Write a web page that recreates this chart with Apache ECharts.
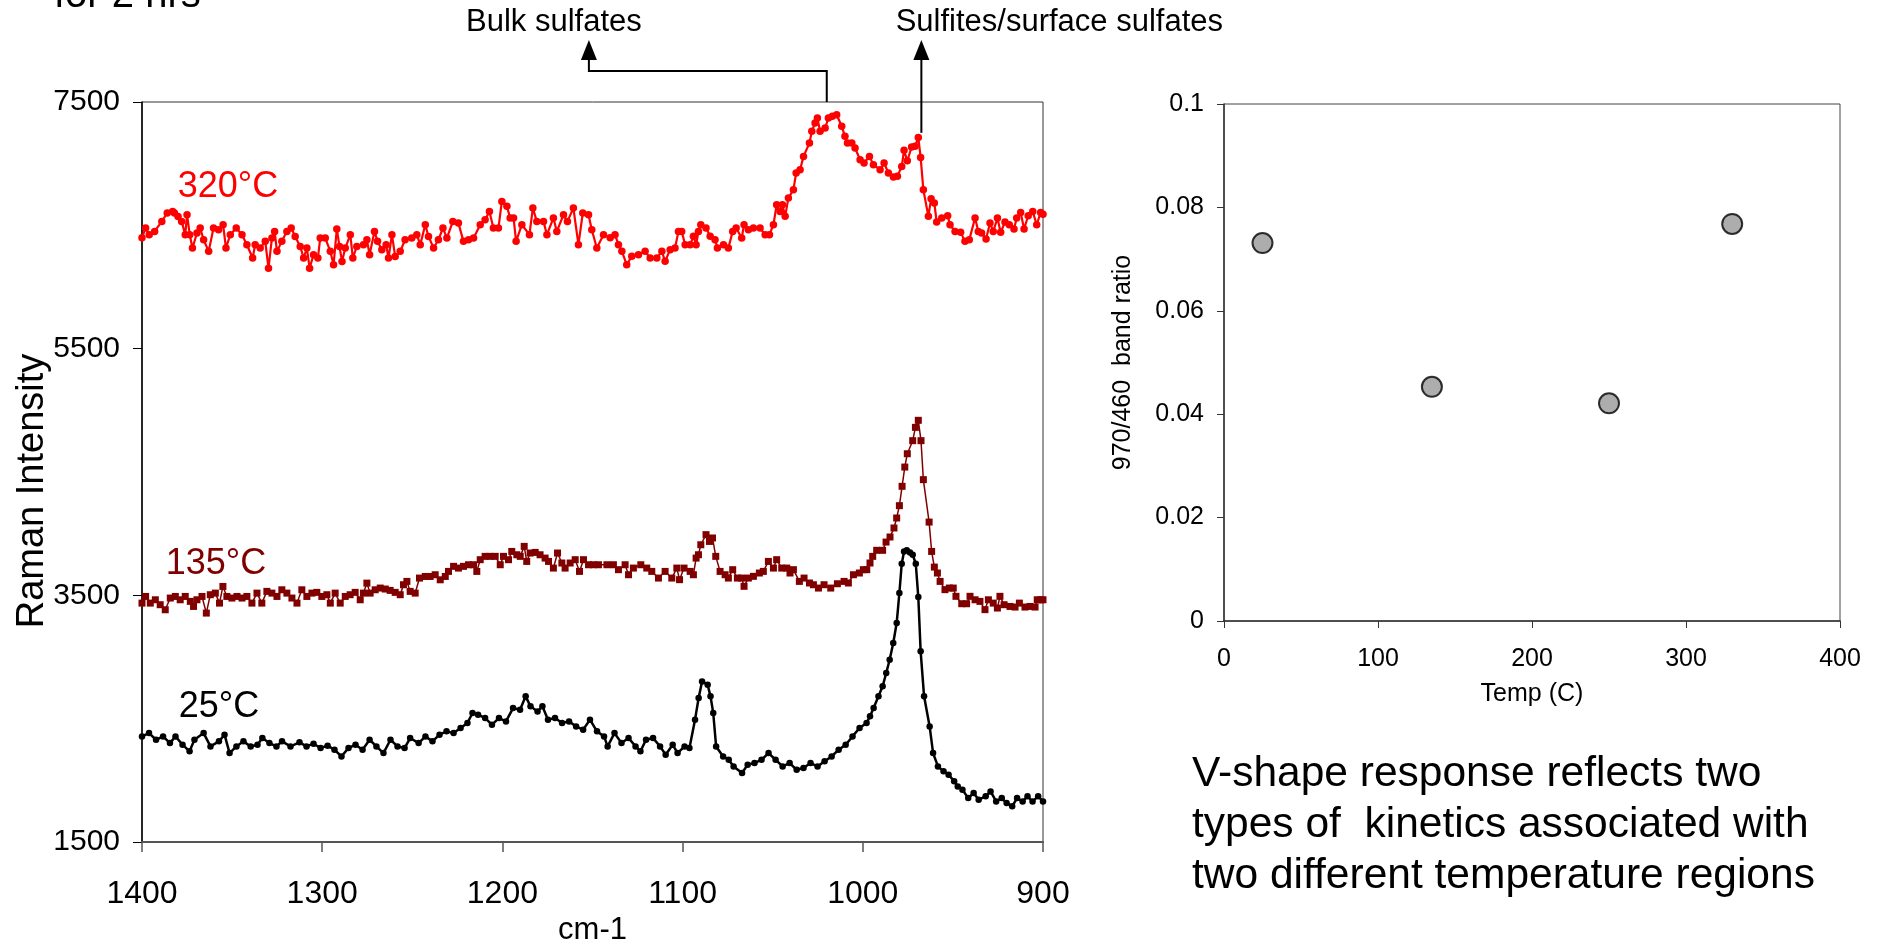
<!DOCTYPE html>
<html>
<head>
<meta charset="utf-8">
<script src="https://cdn.jsdelivr.net/npm/echarts@6/dist/echarts.min.js"></script>
<style>
html,body{margin:0;padding:0;background:#fff;}
#main{width:1879px;height:944px;}
</style>
</head>
<body>
<div id="main"></div>
<script>
// ---------- Raman spectra (wavenumber cm-1, intensity) ----------
const wave320 = [1400,1398,1396,1393,1389,1386,1383,1382,1380,1378,1376,1375,1373.5,1372,1369.5,1367.7,1365.8,1363,1360.3,1357.5,1355,1353.4,1351,1347.7,1344.5,1341.8,1338.6,1337.2,1334.4,1331.6,1329.8,1327.9,1326.4,1325.1,1322.4,1319.6,1317.2,1315,1312.2,1310.3,1308.5,1307,1304.8,1302.4,1301.1,1298.3,1295.5,1293.7,1291.9,1290.4,1289,1287.2,1284.4,1283,1280.8,1277.1,1275.2,1273.7,1271,1269.3,1266.9,1264.5,1263.2,1261.3,1259.5,1256.7,1254,1250.3,1247.5,1245.6,1242.8,1241,1238.2,1235.5,1233,1230.8,1227.5,1224.4,1221.6,1218.8,1216,1212.3,1209.6,1207.2,1205,1202.2,1200.3,1197.5,1195.7,1193.8,1192.4,1189.2,1185,1183.1,1180.9,1177.2,1175.3,1171.7,1169.8,1166.1,1163.9,1160.6,1157.8,1155.4,1152.2,1150.4,1147.6,1143.9,1140.2,1137.5,1135.6,1133.7,1131,1128.2,1124.5,1120.8,1118,1114.3,1111.5,1109.7,1106.9,1104.2,1102.3,1100.5,1098.6,1095.8,1094,1092.5,1091.2,1089.9,1087,1084.7,1082,1080.7,1077.3,1074.6,1072.2,1070.3,1067.2,1065.9,1063.5,1060.7,1057,1054.2,1051.8,1049.6,1047.8,1045.9,1044.6,1043.1,1041.3,1038.5,1037,1034.8,1032.9,1029.6,1028.3,1026.5,1025.2,1023.7,1020.9,1019.1,1016.9,1014.5,1011.7,1009.9,1008.5,1006.1,1004.3,1001.5,999.3,996.3,994.1,990.4,988.2,985.8,983,980.8,978.4,977.1,975.3,972.9,971,969.2,967.9,966.4,963.6,962.1,960.3,959,956.2,952.9,951.6,948.8,945.7,943.3,940.9,937.7,935.9,934.1,931.6,929.4,927.6,925.3,923.5,921.1,918.7,916.1,914.6,912.4,910.5,908.2,905.7,903.5,901.3,900];
const int320 = [6400,6478,6424,6451,6532,6600,6613,6600,6572,6532,6424,6586,6424,6316,6437,6478,6383,6289,6478,6464,6505,6316,6424,6478,6424,6343,6235,6343,6316,6370,6153,6397,6451,6289,6370,6451,6478,6410,6329,6235,6316,6153,6262,6235,6397,6397,6289,6180,6470,6329,6207,6316,6424,6235,6329,6343,6383,6262,6451,6370,6302,6343,6235,6424,6248,6289,6383,6397,6424,6343,6505,6410,6316,6383,6478,6397,6532,6518,6370,6383,6397,6505,6545,6613,6478,6478,6694,6654,6559,6559,6370,6505,6424,6640,6532,6532,6424,6559,6451,6586,6532,6640,6343,6600,6586,6464,6316,6424,6400,6424,6343,6289,6181,6249,6262,6289,6235,6235,6289,6208,6303,6316,6451,6451,6343,6343,6411,6343,6451,6505,6478,6411,6384,6316,6343,6316,6451,6478,6397,6505,6465,6478,6478,6424,6424,6505,6667,6613,6667,6573,6721,6789,6924,6951,7059,7168,7262,7330,7370,7262,7289,7370,7384,7397,7303,7222,7168,7168,7127,7032,7005,7059,6992,6951,7005,6924,6892,6897,6978,7108,7024,7135,7141,7213,7051,6789,6573,6716,6681,6527,6559,6578,6505,6451,6443,6370,6384,6559,6451,6438,6389,6519,6451,6559,6443,6527,6505,6470,6559,6605,6470,6578,6613,6505,6605,6590];

const wave135 = [1400,1398,1395.4,1392.6,1389.9,1387.1,1384.3,1381.5,1378.8,1376,1373.2,1371.4,1369.5,1366.7,1364.3,1362.1,1359.3,1357,1355.1,1352.9,1350.1,1347.3,1344.5,1341.8,1339,1336.2,1333.5,1330.7,1327.9,1325.1,1322.4,1319.6,1316.8,1314,1311.3,1308.5,1305.7,1303,1300.2,1297.4,1295.5,1292.8,1290,1287.2,1284.5,1281.7,1278.9,1277.1,1275.2,1273.4,1270.6,1267.8,1265,1262.3,1259.5,1256.7,1254.9,1253,1251.2,1248.4,1246,1242.8,1240.1,1237.3,1234.5,1231.7,1229.9,1227.1,1224.4,1221.6,1218.8,1216,1214.2,1212.3,1209.6,1206.8,1204,1201.2,1199.4,1196.6,1194.8,1192,1190.1,1187.9,1186.5,1184.6,1181.8,1179.1,1176.3,1174.4,1171.7,1169.4,1167,1165.2,1162.4,1159.6,1157.2,1155,1152.2,1149.5,1146.7,1142,1138.4,1135.6,1131.9,1130,1127.3,1123.2,1119.9,1117.1,1113.4,1109.7,1106,1103.2,1101.7,1099.2,1095.8,1094,1092.5,1091.2,1089.9,1087,1085.1,1083.4,1081.6,1079.2,1076.4,1074.6,1072.2,1069.6,1067.2,1065.9,1063.5,1060.7,1057.4,1055.2,1052.4,1049.6,1047.8,1045,1042.2,1040.4,1038.5,1035.2,1032.6,1029.6,1027.4,1024.6,1021.5,1017.8,1014.1,1010.4,1008,1005.2,1001.9,999.7,997.8,996,994.5,992.3,989,987.1,984.9,982.7,981.2,979.7,978.2,976.7,975.3,972.3,970.8,969.2,967.7,966.4,963.2,961.8,960.3,958.6,957.1,954.4,952,949.8,948.3,945.1,942.4,940.5,937.7,935,932.2,930.3,927.6,925.3,923.9,921.6,918.3,915.5,913.1,910,907.2,904.4,903.2,901.3,900];
const int135 = [3437,3491,3437,3464,3424,3383,3478,3491,3464,3491,3451,3410,3464,3491,3356,3505,3518,3437,3572,3491,3478,3491,3478,3491,3437,3518,3437,3532,3518,3491,3545,3518,3478,3437,3545,3491,3518,3524,3491,3505,3437,3518,3437,3491,3505,3524,3464,3518,3599,3518,3545,3559,3551,3540,3524,3505,3586,3613,3532,3518,3640,3653,3653,3667,3626,3653,3694,3735,3721,3735,3748,3748,3694,3789,3816,3816,3816,3748,3816,3789,3856,3829,3816,3897,3775,3843,3848,3829,3802,3775,3721,3843,3762,3721,3762,3789,3694,3789,3748,3748,3748,3748,3748,3708,3748,3667,3721,3748,3721,3694,3640,3694,3640,3721,3627,3721,3694,3667,3802,3829,3910,3992,3937,3965,3816,3694,3667,3640,3708,3640,3640,3573,3640,3654,3681,3694,3775,3721,3789,3721,3721,3681,3708,3613,3640,3600,3586,3559,3586,3559,3594,3613,3600,3667,3681,3708,3708,3762,3816,3865,3865,3932,3973,4046,4127,4227,4384,4540,4648,4754,4862,4919,4754,4438,4094,3856,3729,3681,3613,3546,3559,3559,3492,3432,3432,3492,3464,3451,3384,3464,3437,3397,3492,3424,3410,3405,3437,3405,3410,3405,3464,3464,3464];

const wave25 = [1400,1396.1,1392.2,1388.3,1384.5,1381.4,1377.5,1373.6,1370.9,1365.8,1362,1357.3,1354.2,1351.4,1347.6,1343.7,1339.7,1335.9,1333.2,1329.3,1325.4,1322.3,1317.6,1312.6,1308.7,1304.8,1300.9,1297,1293.2,1289.3,1285.4,1281.5,1277.6,1273.7,1269.9,1266,1262.1,1258.2,1254.3,1251.2,1246.5,1242.7,1238.8,1234.9,1231,1227.1,1223.2,1219.4,1216.6,1213.5,1209.6,1205.8,1201.9,1198,1194.1,1190.2,1187.1,1184.4,1180.5,1177.8,1174.7,1170.8,1166.9,1163,1159.1,1155.2,1151.4,1147.5,1143.6,1141.6,1137.8,1133.9,1130,1126.1,1123.4,1120.3,1116.4,1112.5,1109.4,1105.5,1102.8,1098.9,1096.2,1093.1,1091.1,1089.2,1086.1,1084.5,1083,1081.4,1077.5,1074.4,1071.7,1067,1063.9,1060.1,1056.2,1052.3,1048.4,1044.5,1040.6,1036.7,1032.9,1029,1025.1,1021.2,1017.3,1013.4,1009.5,1005.7,1001.8,997.9,996,994,991.3,989,987,985.1,983.1,981.2,979.7,978.4,977.1,975.6,973.8,972.3,970.6,969.2,967.9,966,962.9,961,958.3,955.2,952.4,949.3,947.3,944.7,941.5,938.5,935.7,931.8,929.1,926,922.9,920.2,917.1,914.4,911.3,908.6,905.8,902.7,900];
const int25 = [2356,2383,2329,2356,2302,2356,2289,2235,2329,2383,2275,2316,2370,2221,2275,2316,2275,2289,2343,2302,2275,2316,2275,2308,2275,2297,2262,2281,2248,2194,2262,2289,2248,2329,2275,2221,2329,2275,2262,2343,2302,2356,2316,2370,2397,2383,2424,2465,2546,2532,2505,2451,2505,2478,2586,2573,2681,2600,2559,2600,2492,2505,2465,2478,2437,2410,2492,2397,2356,2275,2383,2302,2343,2275,2235,2329,2343,2275,2208,2289,2221,2275,2262,2492,2667,2802,2775,2681,2546,2275,2194,2167,2113,2059,2127,2140,2167,2221,2167,2113,2140,2086,2100,2140,2113,2154,2194,2248,2289,2356,2424,2465,2519,2586,2681,2762,2870,2978,3113,3275,3519,3756,3856,3865,3848,3829,3756,3486,3046,2681,2437,2221,2113,2073,2046,1992,1951,1924,1856,1897,1843,1870,1910,1829,1856,1816,1789,1856,1829,1870,1829,1870,1829];

const ramanYTicks = [1500, 3500, 5500, 7500];

// ---------- band ratio vs temperature ----------
const tempC = [25, 135, 250, 330];
const bandRatio = [0.0731, 0.0453, 0.0421, 0.0768];

// ---------- annotation anchors (cm-1) ----------
const bulkBand = 1020, bulkArrowAt = 1152, sulfBand = 967.5, sulfLineTop = 7250;

const zip = (xs, ys) => xs.map((x, i) => [x, ys[i]]);
const FONT = "'Liberation Sans', Arial, Helvetica, sans-serif";

const chart = echarts.init(document.getElementById('main'), null, {renderer: 'canvas'});

const option = {
  animation: false,
  backgroundColor: '#ffffff',
  textStyle: {fontFamily: FONT, color: '#000'},
  grid: [
    {left: 142, top: 102, width: 901, height: 740, show: true, borderColor: '#333', borderWidth: 1,
     backgroundColor: 'transparent', containLabel: false, outerBoundsMode: 'none'},
    {left: 1224, top: 104, width: 616, height: 517, show: true, borderColor: '#444', borderWidth: 1,
     backgroundColor: 'transparent', containLabel: false, outerBoundsMode: 'none'}
  ],
  xAxis: [
    {gridIndex: 0, type: 'value', min: 900, max: 1400, interval: 100, inverse: true,
     name: 'cm-1', nameLocation: 'middle', nameGap: 73,
     nameTextStyle: {fontSize: 31, fontFamily: FONT, color: '#000'},
     axisLine: {show: true, onZero: false, lineStyle: {color: '#555', width: 2}},
     axisTick: {show: true, inside: false, length: 10, lineStyle: {color: '#555', width: 1.5}},
     axisLabel: {fontSize: 32, fontFamily: FONT, color: '#000', margin: 36, formatter: v => String(v)},
     splitLine: {show: false}},
    {gridIndex: 1, type: 'value', min: 0, max: 400, interval: 100,
     name: 'Temp (C)', nameLocation: 'middle', nameGap: 61,
     nameTextStyle: {fontSize: 25, fontFamily: FONT, color: '#000'},
     axisLine: {show: true, onZero: false, lineStyle: {color: '#333', width: 1.5}},
     axisTick: {show: true, inside: false, length: 7, lineStyle: {color: '#333', width: 1}},
     axisLabel: {fontSize: 25, fontFamily: FONT, color: '#000', margin: 26, formatter: v => String(v)},
     splitLine: {show: false}}
  ],
  yAxis: [
    {gridIndex: 0, type: 'value', min: 1500, max: 7500,
     axisLine: {show: true, onZero: false, lineStyle: {color: '#000', width: 1.5}},
     axisTick: {show: true, inside: false, length: 9, customValues: ramanYTicks, lineStyle: {color: '#000', width: 1}},
     axisLabel: {fontSize: 30, fontFamily: FONT, color: '#000', margin: 22, customValues: ramanYTicks, formatter: v => String(v)},
     splitLine: {show: false}},
    {gridIndex: 1, type: 'value', min: 0, max: 0.1, interval: 0.02,
     name: '970/460  band ratio', nameLocation: 'middle', nameGap: 88,
     nameTextStyle: {fontSize: 25, fontFamily: FONT, color: '#000'},
     axisLine: {show: true, onZero: false, lineStyle: {color: '#333', width: 1.5}},
     axisTick: {show: true, inside: false, length: 7, lineStyle: {color: '#333', width: 1}},
     axisLabel: {fontSize: 25, fontFamily: FONT, color: '#000', margin: 20, formatter: v => String(+v.toFixed(2))},
     splitLine: {show: false}}
  ],
  series: [
    {name: '25°C', type: 'line', xAxisIndex: 0, yAxisIndex: 0, data: zip(wave25, int25),
     symbol: 'circle', symbolSize: 6.5, showAllSymbol: true,
     lineStyle: {color: '#000', width: 2.5}, itemStyle: {color: '#000'}, z: 3},
    {name: '135°C', type: 'line', xAxisIndex: 0, yAxisIndex: 0, data: zip(wave135, int135),
     symbol: 'rect', symbolSize: 7, showAllSymbol: true,
     lineStyle: {color: '#800000', width: 1.5}, itemStyle: {color: '#800000'}, z: 2},
    {name: '320°C', type: 'line', xAxisIndex: 0, yAxisIndex: 0, data: zip(wave320, int320),
     symbol: 'circle', symbolSize: 7.5, showAllSymbol: true,
     lineStyle: {color: '#ff0000', width: 2.2}, itemStyle: {color: '#ff0000'}, z: 4},
    {name: 'ratio', type: 'scatter', xAxisIndex: 1, yAxisIndex: 1, data: zip(tempC, bandRatio),
     symbol: 'circle', symbolSize: 20,
     itemStyle: {color: '#999999', borderColor: '#000', borderWidth: 2}}
  ]
};
chart.setOption(option);

// annotations positioned through the chart's own scales
const pBulk = chart.convertToPixel({gridIndex: 0}, [bulkBand, 7500]);
const pBulkArrow = chart.convertToPixel({gridIndex: 0}, [bulkArrowAt, 7500]);
const pSulf = chart.convertToPixel({gridIndex: 0}, [sulfBand, sulfLineTop]);
const topY = pBulk[1];
const headTip = 40, headBase = 60, bracketY = 71;

const txt = (x, y, text, size, color, align, extra) => Object.assign({
  type: 'text', x: x, y: y, silent: true,
  style: {text: text, fontSize: size, fontFamily: FONT, fill: color, align: align || 'center', verticalAlign: 'middle'}
}, extra || {});

chart.setOption({
  graphic: [
    {type: 'polyline', silent: true, shape: {points: [[pBulk[0], topY], [pBulk[0], bracketY], [pBulkArrow[0], bracketY], [pBulkArrow[0], headBase]]},
     style: {stroke: '#000', lineWidth: 2, fill: null}},
    {type: 'polygon', silent: true, shape: {points: [[pBulkArrow[0] - 8, headBase], [pBulkArrow[0] + 8, headBase], [pBulkArrow[0], headTip]]},
     style: {fill: '#000'}},
    {type: 'line', silent: true, shape: {x1: pSulf[0], y1: pSulf[1], x2: pSulf[0], y2: headBase},
     style: {stroke: '#000', lineWidth: 2}},
    {type: 'polygon', silent: true, shape: {points: [[pSulf[0] - 8, headBase], [pSulf[0] + 8, headBase], [pSulf[0], headTip]]},
     style: {fill: '#000'}},
    txt(pBulkArrow[0] - 35, 22, 'Bulk sulfates', 31, '#000'),
    txt(pSulf[0] + 138, 22, 'Sulfites/surface sulfates', 31, '#000'),
    txt(54, -4, 'for 2 hrs', 40, '#000', 'left'),
    txt(228, 187, '320°C', 36, '#ff0000'),
    txt(216, 564, '135°C', 36, '#800000'),
    txt(219, 707, '25°C', 36, '#000'),
    txt(33, 491, 'Raman Intensity', 38, '#000', 'center', {rotation: Math.PI / 2}),
    txt(1192, 774, 'V-shape response reflects two', 42.5, '#000', 'left'),
    txt(1192, 825, 'types of  kinetics associated with', 42.5, '#000', 'left'),
    txt(1192, 876, 'two different temperature regions', 42.5, '#000', 'left')
  ]
});
</script>
</body>
</html>
